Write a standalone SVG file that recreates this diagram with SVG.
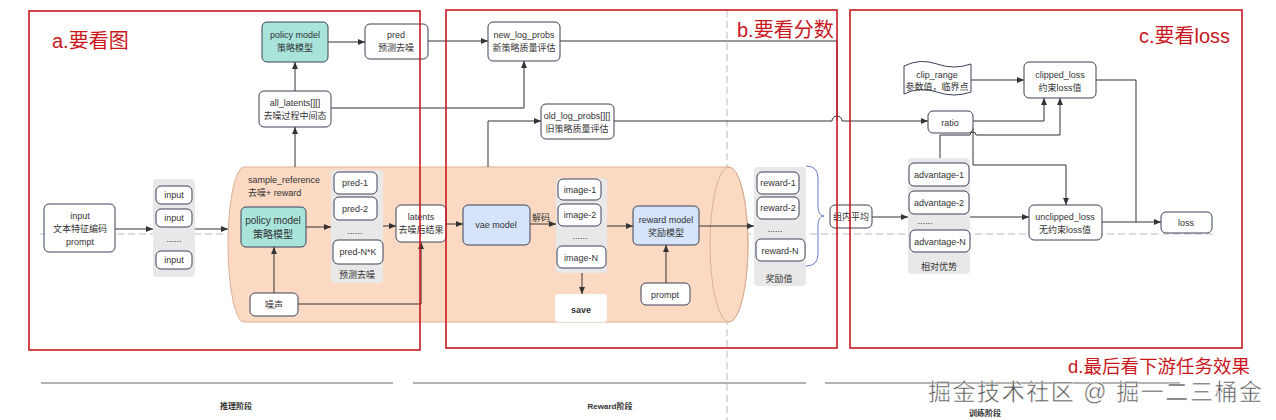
<svg xmlns="http://www.w3.org/2000/svg" width="1276" height="420" viewBox="0 0 1276 420">
<style>
text{font-family:"Liberation Sans","Noto Sans CJK SC",sans-serif;fill:#333;font-size:9px;text-anchor:middle}
.n{fill:#fff;stroke:#3d4256;stroke-width:1}
.teal{fill:#a8e4da;stroke:#3d4256;stroke-width:1}
.blue{fill:#d5e4fb;stroke:#3d4256;stroke-width:1}
.stack{fill:#e8e8e8;stroke:none}
.c{fill:none;stroke:#333;stroke-width:1}
.a{marker-end:url(#ar)}
.red{fill:none;stroke:#c8181e;stroke-width:1.6}
.rt{fill:#c8181e;font-size:20px;text-anchor:start}
.dash{stroke:#bbb;stroke-width:1;stroke-dasharray:7 4;fill:none}
.lbl{font-size:8px;font-weight:bold;fill:#333}
</style>
<defs>
<marker id="ar" markerUnits="userSpaceOnUse" markerWidth="7" markerHeight="6" refX="7" refY="3" orient="auto"><path d="M0,0 L7,3 L0,6 z" fill="#333"/></marker>
</defs>
<rect width="1276" height="420" fill="#fff"/>
<g id="guides">
<path class="dash" d="M40,234 H1215"/>
<path class="dash" d="M727,10 V420"/>
<path d="M41,383 H393 M413,383 H806 M825,383 H1180" stroke="#666" stroke-width="1.2"/>
<text class="lbl" x="236" y="409">推理阶段</text>
<text class="lbl" x="610" y="409">Reward阶段</text>
<text class="lbl" x="985" y="416">训练阶段</text>
</g>
<g id="cylinder">
<path d="M244,167 H729 A19,77.5 0 0 1 729,322 H244 A16,77.5 0 0 1 244,167 Z" fill="#fcd9c3" stroke="#dbb195" stroke-width="1"/>
<ellipse cx="729" cy="244.5" rx="19" ry="77.5" fill="none" stroke="#dbb195" stroke-width="1"/>
<text x="248" y="183" style="text-anchor:start">sample_reference</text>
<text x="248" y="196" style="text-anchor:start">去噪+ reward</text>
</g>
<g id="stacks">
<rect class="stack" x="153" y="179" width="42" height="98" rx="4"/>
<rect class="stack" x="331" y="170" width="52" height="113" rx="4"/>
<rect class="stack" x="556" y="178" width="51" height="95" rx="4"/>
<rect class="stack" x="754" y="167" width="52" height="119" rx="4"/>
<rect class="stack" x="908" y="158" width="62" height="116" rx="4"/>
</g>
<g id="connectors">
<path class="c a" d="M328,42 H365"/>
<path class="c a" d="M428,41 H488"/>
<path class="c a" d="M295,91 V62"/>
<path class="c a" d="M331,108 H524 V61"/>
<path class="c a" d="M295,167 V127"/>
<path class="c" d="M560,41 H837 V121"/>
<path class="c a" d="M488,167 V121 H541"/>
<path class="c a" d="M614,121 H832 A5,5 0 0 1 842,121 H928"/>
<path class="c a" d="M973,121 H1044 V98"/>
<path class="c a" d="M940,158 V135 H970 A3,3 0 0 1 976,135 H1060 V98"/>
<path class="c a" d="M973,128 V165 H1066 V205"/>
<path class="c a" d="M971,80 H1024"/>
<path class="c" d="M1096,80 H1136 V222"/>
<path class="c a" d="M1102,222 H1161"/>
<path class="c a" d="M970,217 H1029"/>
<path class="c a" d="M872,217 H908"/>
<path class="c a" d="M699,226 H754"/>
<path class="c a" d="M115,229 H153"/>
<path class="c a" d="M195,229 H228"/>
<path class="c a" d="M306,227 H331"/>
<path class="c a" d="M383,226 H396"/>
<path class="c a" d="M274,293 V247"/>
<path class="c a" d="M298,304 H421 V242"/>
<path class="c a" d="M446,224 H463"/>
<path class="c a" d="M530,224 H556"/>
<path class="c a" d="M607,226 H633"/>
<path class="c a" d="M582,273 V294"/>
<path class="c a" d="M666,283 V245"/>
<path d="M806,166 Q818,166 818,178 V206 Q818,216 824,216 Q818,216 818,226 V254 Q818,266 806,266" fill="none" stroke="#6c7bd0" stroke-width="1"/>
<text x="541" y="221">解码</text>
</g>
<g id="policy_top"><rect class="teal" x="262" y="22" width="66" height="40" rx="5"/><text x="295" y="38">policy model</text><text x="295" y="51">策略模型</text></g>
<g id="pred"><rect class="n" x="365" y="24" width="63" height="35" rx="5"/><text x="396" y="38">pred</text><text x="396" y="51">预测去噪</text></g>
<g id="new_log_probs"><rect class="n" x="488" y="22" width="72" height="39" rx="5"/><text x="524" y="38">new_log_probs</text><text x="524" y="51">新策略质量评估</text></g>
<g id="all_latents"><rect class="n" x="259" y="91" width="72" height="36" rx="5"/><text x="295" y="106">all_latents[][]</text><text x="295" y="119">去噪过程中间态</text></g>
<g id="old_log_probs"><rect class="n" x="541" y="104" width="73" height="35" rx="5"/><text x="577" y="119">old_log_probs[][]</text><text x="577" y="132">旧策略质量评估</text></g>
<g id="input_prompt"><rect class="n" x="44" y="204" width="71" height="48" rx="5"/><text x="80" y="219">input</text><text x="80" y="232">文本特征编码</text><text x="80" y="245">prompt</text></g>
<g id="inputs">
<rect class="n" x="156" y="186" width="36" height="18" rx="5"/><text x="174" y="198">input</text>
<rect class="n" x="156" y="209" width="36" height="18" rx="5"/><text x="174" y="221">input</text>
<text x="174" y="242">......</text>
<rect class="n" x="156" y="251" width="36" height="18" rx="5"/><text x="174" y="263">input</text>
</g>
<g id="policy_inner"><rect class="teal" x="241" y="207" width="65" height="40" rx="5"/><text x="273" y="224" style="font-size:10px">policy model</text><text x="273" y="238" style="font-size:10px">策略模型</text></g>
<g id="preds">
<rect class="n" x="334" y="172" width="43" height="22" rx="5"/><text x="355" y="186">pred-1</text>
<rect class="n" x="334" y="197" width="43" height="23" rx="5"/><text x="355" y="212">pred-2</text>
<text x="355" y="234">......</text>
<rect class="n" x="333" y="240" width="50" height="24" rx="5"/><text x="358" y="255">pred-N*K</text>
<text x="357" y="278">预测去噪</text>
</g>
<g id="latents"><rect class="n" x="396" y="205" width="50" height="37" rx="5"/><text x="421" y="220">latents</text><text x="421" y="233">去噪后结果</text></g>
<g id="noise"><rect class="n" x="250" y="293" width="48" height="23" rx="5"/><text x="274" y="308">噪声</text></g>
<g id="vae"><rect class="blue" x="463" y="205" width="67" height="40" rx="5"/><text x="496" y="228">vae model</text></g>
<g id="images">
<rect class="n" x="558" y="179" width="43" height="21" rx="5"/><text x="580" y="193">image-1</text>
<rect class="n" x="558" y="204" width="43" height="22" rx="5"/><text x="580" y="218">image-2</text>
<text x="580" y="239">......</text>
<rect class="n" x="557" y="246" width="49" height="22" rx="5"/><text x="581" y="261">image-N</text>
</g>
<g id="save"><rect x="555" y="294" width="52" height="28" rx="3" fill="#fff"/><text x="581" y="313" style="font-weight:bold">save</text></g>
<g id="reward_model"><rect class="blue" x="633" y="206" width="66" height="39" rx="5"/><text x="666" y="223">reward model</text><text x="666" y="236">奖励模型</text></g>
<g id="prompt"><rect class="n" x="641" y="283" width="49" height="22" rx="5"/><text x="665" y="298">prompt</text></g>
<g id="rewards">
<rect class="n" x="757" y="172" width="42" height="22" rx="5"/><text x="778" y="186">reward-1</text>
<rect class="n" x="757" y="197" width="42" height="22" rx="5"/><text x="778" y="211">reward-2</text>
<text x="775" y="232">......</text>
<rect class="n" x="756" y="239" width="49" height="22" rx="5"/><text x="780" y="254">reward-N</text>
<text x="779" y="282">奖励值</text>
</g>
<g id="group_mean"><rect class="n" x="830" y="205" width="42" height="23" rx="5"/><text x="851" y="220">组内平均</text></g>
<g id="advantages">
<rect class="n" x="909" y="163" width="60" height="23" rx="5"/><text x="939" y="178">advantage-1</text>
<rect class="n" x="909" y="191" width="60" height="23" rx="5"/><text x="939" y="206">advantage-2</text>
<text x="925" y="224">......</text>
<rect class="n" x="910" y="230" width="60" height="22" rx="5"/><text x="940" y="245">advantage-N</text>
<text x="939" y="270">相对优势</text>
</g>
<g id="ratio"><rect class="n" x="928" y="111" width="45" height="22" rx="5"/><text x="950" y="126">ratio</text></g>
<g id="clip_range"><path class="n" d="M904,66 Q920,58 937,64 Q954,70 971,64 V92 Q954,98 937,92 Q920,86 904,94 Z"/><text x="937" y="78">clip_range</text><text x="937" y="90">参数值，临界点</text></g>
<g id="clipped_loss"><rect class="n" x="1024" y="62" width="72" height="36" rx="5"/><text x="1060" y="78">clipped_loss</text><text x="1060" y="91">约束loss值</text></g>
<g id="unclipped_loss"><rect class="n" x="1029" y="205" width="73" height="35" rx="5"/><text x="1065" y="220">unclipped_loss</text><text x="1065" y="233">无约束loss值</text></g>
<g id="loss"><rect class="n" x="1161" y="212" width="51" height="21" rx="5"/><text x="1186" y="226">loss</text></g>
<g id="frames">
<rect class="red" x="29" y="11" width="391" height="339"/>
<rect class="red" x="446" y="10" width="391" height="338"/>
<rect class="red" x="850" y="10" width="392" height="338"/>
<text class="rt" x="52" y="48">a.要看图</text>
<text class="rt" x="737" y="37">b.要看分数</text>
<text class="rt" x="1139" y="43">c.要看loss</text>
<text class="rt" x="1068" y="373" style="font-size:18.5px">d.最后看下游任务效果</text>
</g>
<g id="watermark"><text x="928" y="400" textLength="334" lengthAdjust="spacing" style="text-anchor:start;font-size:23px;fill:#555;stroke:#fff;stroke-width:0.5">掘金技术社区 @ 掘一二三桶金</text></g>
</svg>
